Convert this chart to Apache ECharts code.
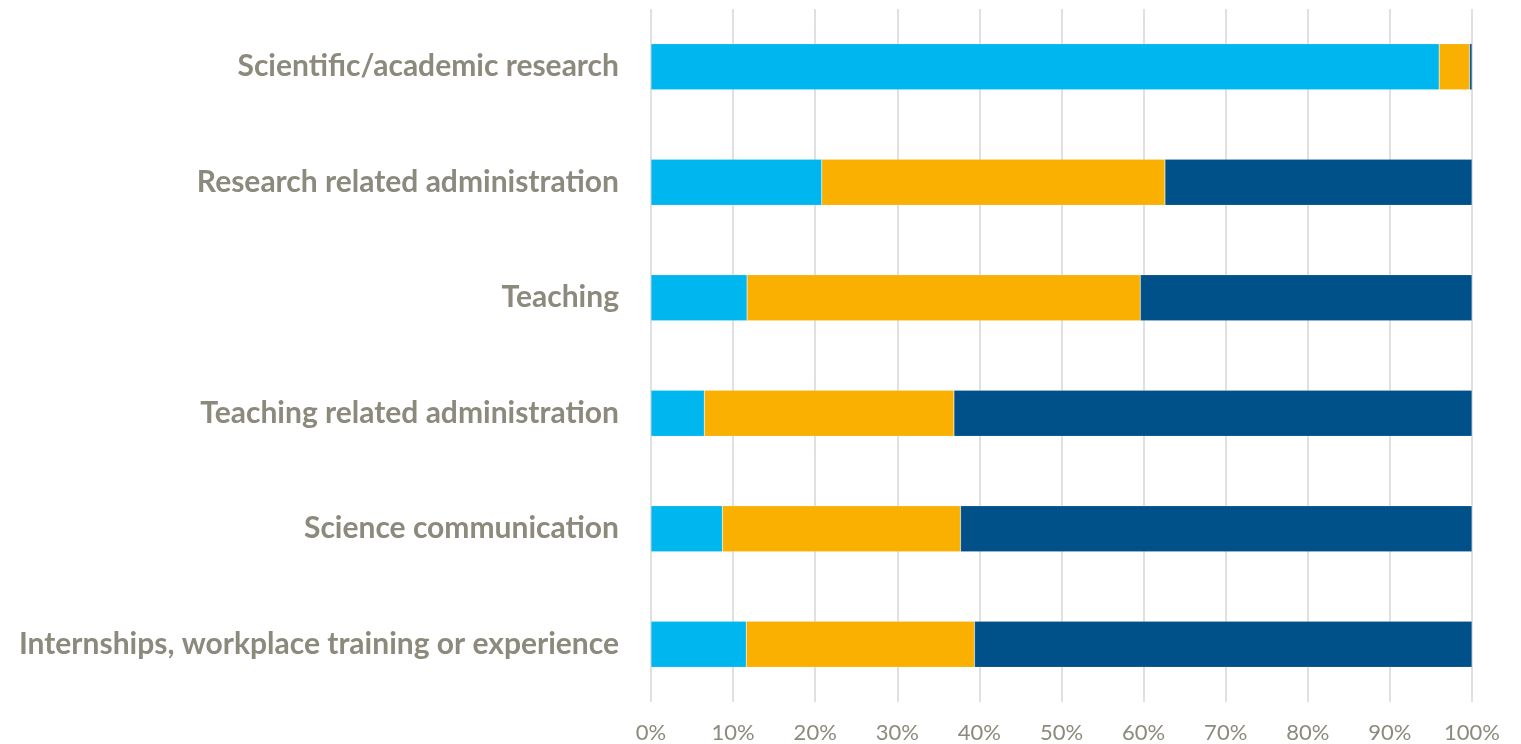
<!DOCTYPE html>
<html>
<head>
<meta charset="utf-8">
<script src="https://cdn.jsdelivr.net/npm/echarts@6/dist/echarts.min.js"></script>
<style>
  html, body { margin: 0; padding: 0; background: #fff; }
  #chart { width: 1521px; height: 744px; }
</style>
</head>
<body>
<div id="chart"></div>
<script>
var categories = [
  'Scientific/academic research',
  'Research related administration',
  'Teaching',
  'Teaching related administration',
  'Science communication',
  'Internships, workplace training or experience'
];
// share of respondents, in percent
var blueValues   = [96.0, 20.8, 11.7, 6.5, 8.7, 11.6];
var orangeValues = [3.7, 41.8, 47.9, 30.4, 29.0, 27.8];
var darkValues   = [0.3, 37.4, 40.4, 63.1, 62.3, 60.6];
var tickLabels = ['0%', '10%', '20%', '30%', '40%', '50%', '60%', '70%', '80%', '90%', '100%'];

var myChart = echarts.init(document.getElementById('chart'));

function barSeries(name, values, color) {
  return {
    name: name,
    type: 'bar',
    stack: 'total',
    barWidth: '40%',
    itemStyle: { color: color, borderColor: 'rgba(255,255,255,0.35)', borderWidth: 0.5 },
    emphasis: { disabled: true },
    data: values
  };
}

var option = {
  animation: false,
  grid: { left: 651, right: 49, top: 9, bottom: 41, containLabel: false },
  xAxis: {
    type: 'value',
    min: 0,
    max: 100,
    interval: 10,
    axisLine: { show: false },
    axisTick: { show: false },
    splitLine: { show: true, lineStyle: { color: '#e0e0e0', width: 2 } },
    axisLabel: {
      color: '#8c897d',
      fontFamily: 'Lato',
      fontSize: 22,
      margin: 20,
      formatter: function (v) { return tickLabels[Math.round(v / 10)]; }
    }
  },
  yAxis: {
    type: 'category',
    inverse: true,
    data: categories,
    axisLine: { show: false },
    axisTick: { show: false },
    axisLabel: {
      color: '#8c897d',
      fontFamily: 'Lato',
      fontWeight: 'bold',
      fontSize: 30,
      margin: 32
    }
  },
  series: [
    barSeries('Blue', blueValues, '#00b6ef'),
    barSeries('Orange', orangeValues, '#f9b000'),
    barSeries('Dark', darkValues, '#00508a')
  ]
};

myChart.setOption(option);
</script>
</body>
</html>
